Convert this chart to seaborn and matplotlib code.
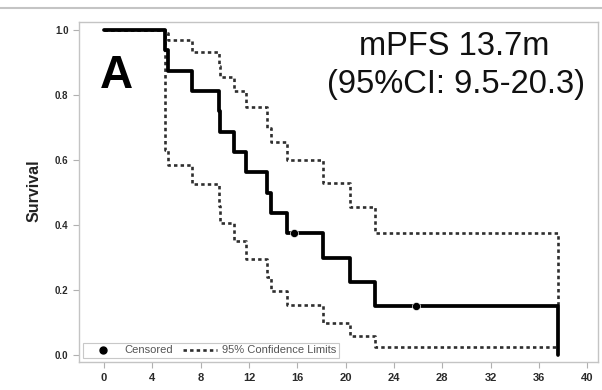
import matplotlib
matplotlib.use("Agg")
import matplotlib.pyplot as plt
from matplotlib.lines import Line2D
import seaborn as sns
import pandas as pd

# ---- data ----
times = [0, 5.05, 5.33, 7.3, 9.5, 9.6, 10.77, 11.76, 13.5, 13.8, 15.13, 18.1, 20.33, 22.45, 37.6]
survival = [1.0, 0.9375, 0.875, 0.8125, 0.75, 0.6875, 0.625, 0.5625, 0.5, 0.4375, 0.375, 0.30, 0.225, 0.15, 0.0]
upper_ci = [1.0, 0.99, 0.969, 0.933, 0.89, 0.856, 0.813, 0.762, 0.70, 0.656, 0.60, 0.528, 0.456, 0.374, 0.15]
lower_ci = [1.0, 0.63, 0.585, 0.526, 0.46, 0.405, 0.351, 0.294, 0.24, 0.198, 0.154, 0.10, 0.058, 0.026, 0.026]
censor_times = [15.77, 25.8]
censor_surv = [0.375, 0.15]
x_ticks = [0, 4, 8, 12, 16, 20, 24, 28, 32, 36, 40]
y_ticks = [0.0, 0.2, 0.4, 0.6, 0.8, 1.0]
legend_labels = ["Censored", "95% Confidence Limits"]
annot_lines = ["mPFS 13.7m", "(95%CI: 9.5-20.3)"]

sns.set_style("white")
plt.rcParams["font.family"] = ["Liberation Sans", "DejaVu Sans"]

fig = plt.figure(figsize=(6.02, 3.90), dpi=100)
ax = fig.add_axes([79 / 602, 1 - 362 / 390, (598 - 79) / 602, (362 - 22) / 390])

df = pd.DataFrame({"t": times, "s": survival, "lo": lower_ci, "hi": upper_ci})
cens = pd.DataFrame({"t": censor_times, "s": censor_surv})

DASH = (1.3, 1.2)
dash_kw = dict(color="#2e2e2e", linewidth=1.9, dashes=DASH, drawstyle="steps-post",
               estimator=None, sort=False, legend=False)
sns.lineplot(data=df, x="t", y="hi", ax=ax, **dash_kw)
sns.lineplot(data=df, x="t", y="lo", ax=ax, **dash_kw)
sns.lineplot(data=df, x="t", y="s", ax=ax, color="black", linewidth=2.7,
             drawstyle="steps-post", estimator=None, sort=False, legend=False)
sns.scatterplot(data=cens, x="t", y="s", ax=ax, color="black", s=34, zorder=5, legend=False)

ax.set_xlim(-2.07, 40.9)
ax.set_ylim(-0.0215, 1.0246)
ax.set_xticks(x_ticks)
ax.set_yticks(y_ticks)
ax.set_xticklabels([str(v) for v in x_ticks])
ax.set_yticklabels([f"{v:.1f}" for v in y_ticks])
for lab in ax.get_xticklabels():
    lab.set_fontweight("bold")
    lab.set_fontsize(8)
    lab.set_color("#2a2a2a")
for lab in ax.get_yticklabels():
    lab.set_fontweight("bold")
    lab.set_fontsize(7)
    lab.set_color("#2a2a2a")
ax.tick_params(axis="x", direction="out", length=4.5, width=0.8, color="#b0b0b0", pad=3.5, bottom=True)
ax.tick_params(axis="y", direction="out", length=4.5, width=0.8, color="#b0b0b0", pad=3, left=True)
for sp in ax.spines.values():
    sp.set_color("#c4c4c4")
    sp.set_linewidth(1.0)

ax.set_xlabel("")
ax.set_ylabel("Survival", fontsize=11.5, fontweight="bold", color="#222222")
ax.yaxis.set_label_coords(-0.073, 0.503)

ax.text(100 / 602, 1 - 88 / 390, "A", transform=fig.transFigure, fontsize=33,
        fontweight="bold", color="black", ha="left", va="baseline")
ax.text(454 / 602, 1 - 55 / 390, annot_lines[0], transform=fig.transFigure, fontsize=23.5,
        color="#111111", ha="center", va="baseline")
ax.text(456 / 602, 1 - 93 / 390, annot_lines[1], transform=fig.transFigure, fontsize=23.5,
        color="#111111", ha="center", va="baseline")

handles = [
    Line2D([], [], marker="o", color="black", linestyle="none", markersize=5),
    Line2D([], [], color="#2e2e2e", linewidth=1.9, dashes=DASH),
]
leg = ax.legend(handles, legend_labels, loc="lower left", bbox_to_anchor=(0.008, 0.011),
                borderaxespad=0, ncol=2, frameon=True, fancybox=False, fontsize=8,
                handlelength=3.0, handletextpad=0.5, columnspacing=0.9,
                borderpad=0.25, labelcolor="#555555")
leg.get_frame().set_edgecolor("#c8c8c8")
leg.get_frame().set_linewidth(0.8)
leg.get_frame().set_facecolor("white")
leg.get_frame().set_alpha(1)

fig.add_artist(Line2D([0, 1], [1 - 7.5 / 390] * 2, color="#c4c4c4", linewidth=1.5,
                      transform=fig.transFigure))

fig.savefig("out.png", dpi=100)
